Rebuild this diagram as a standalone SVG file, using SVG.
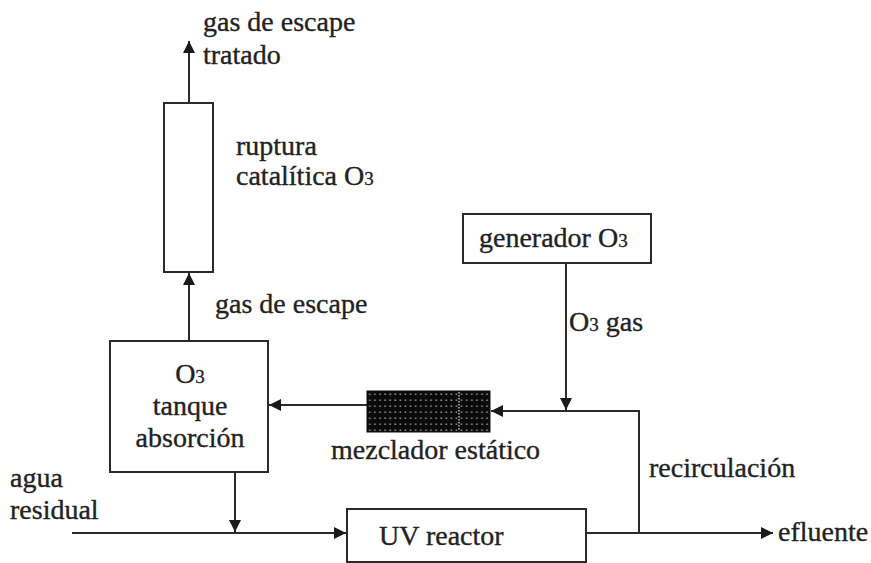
<svg xmlns="http://www.w3.org/2000/svg" width="871" height="563" viewBox="0 0 871 563">
<style>
  .box { fill: #fff; stroke: #2a2a2a; stroke-width: 2; }
  .ln { fill: none; stroke: #2a2a2a; stroke-width: 2; }
  .t { font-family: "Liberation Serif", "Times New Roman", serif; font-size: 28px; fill: #222; stroke: #222; stroke-width: 0.35px; }
  .s { font-size: 19px; }
  .c { text-anchor: middle; }
</style>
<defs>
  <marker id="ah" viewBox="0 0 10 10" refX="10" refY="5" markerWidth="12" markerHeight="12" markerUnits="userSpaceOnUse" orient="auto">
    <path d="M0,0 L10,5 L0,10 Z" fill="#1a1a1a"/>
  </marker>
  <pattern id="grid" x="367" y="391" width="5.1" height="6" patternUnits="userSpaceOnUse">
    <rect width="5.1" height="6" fill="#0a0a0a"/>
    <rect x="2" y="2.5" width="1.6" height="1.4" fill="#9a9a9a"/>
  </pattern>
</defs>
<rect width="871" height="563" fill="#fff"/>

<g id="connectors">
  <line class="ln" x1="189" y1="103" x2="189" y2="41" marker-end="url(#ah)"/>
  <line class="ln" x1="189" y1="340" x2="189" y2="273" marker-end="url(#ah)"/>
  <line class="ln" x1="367" y1="405" x2="269" y2="405" marker-end="url(#ah)"/>
  <line class="ln" x1="566" y1="263" x2="566" y2="410" marker-end="url(#ah)"/>
  <polyline class="ln" points="639,533 639,411 491,411" marker-end="url(#ah)"/>
  <line class="ln" x1="235" y1="472" x2="235" y2="532" marker-end="url(#ah)"/>
  <line class="ln" x1="72" y1="533" x2="346" y2="533" marker-end="url(#ah)"/>
  <line class="ln" x1="586" y1="533" x2="773" y2="533" marker-end="url(#ah)"/>
</g>

<g id="gas-tratado">
  <text class="t" x="203" y="31">gas de escape</text>
  <text class="t" x="203" y="64">tratado</text>
</g>

<g id="ruptura">
  <rect class="box" x="164" y="103" width="49" height="169"/>
  <text class="t" x="236" y="155">ruptura</text>
  <text class="t" x="236" y="185">catalítica O<tspan class="s">3</tspan></text>
</g>

<g id="label-gas-escape">
  <text class="t" x="215" y="313">gas de escape</text>
</g>

<g id="tanque">
  <rect class="box" x="110" y="341" width="158" height="131"/>
  <text class="t c" x="190" y="383">O<tspan class="s">3</tspan></text>
  <text class="t c" x="190" y="415">tanque</text>
  <text class="t c" x="190" y="447">absorción</text>
</g>

<g id="mezclador">
  <rect x="367" y="391" width="123" height="41" fill="url(#grid)" stroke="#111" stroke-width="1"/>
  <line x1="459" y1="392" x2="459" y2="431" stroke="#bbb" stroke-width="1.5" stroke-dasharray="1.5 1.5"/>
  <text class="t" x="331" y="459">mezclador estático</text>
</g>

<g id="generador">
  <rect class="box" x="463" y="214" width="188" height="49"/>
  <text class="t" x="479" y="247">generador O<tspan class="s">3</tspan></text>
  <text class="t" x="569" y="331">O<tspan class="s">3</tspan> gas</text>
</g>

<g id="recirculacion">
  <text class="t" x="649" y="477">recirculación</text>
</g>

<g id="agua">
  <text class="t" x="10" y="487">agua</text>
  <text class="t" x="10" y="519">residual</text>
</g>

<g id="uv">
  <rect class="box" x="347" y="509" width="239" height="53"/>
  <text class="t" x="379" y="545">UV reactor</text>
</g>

<g id="efluente">
  <text class="t" x="778" y="541">efluente</text>
</g>
</svg>
